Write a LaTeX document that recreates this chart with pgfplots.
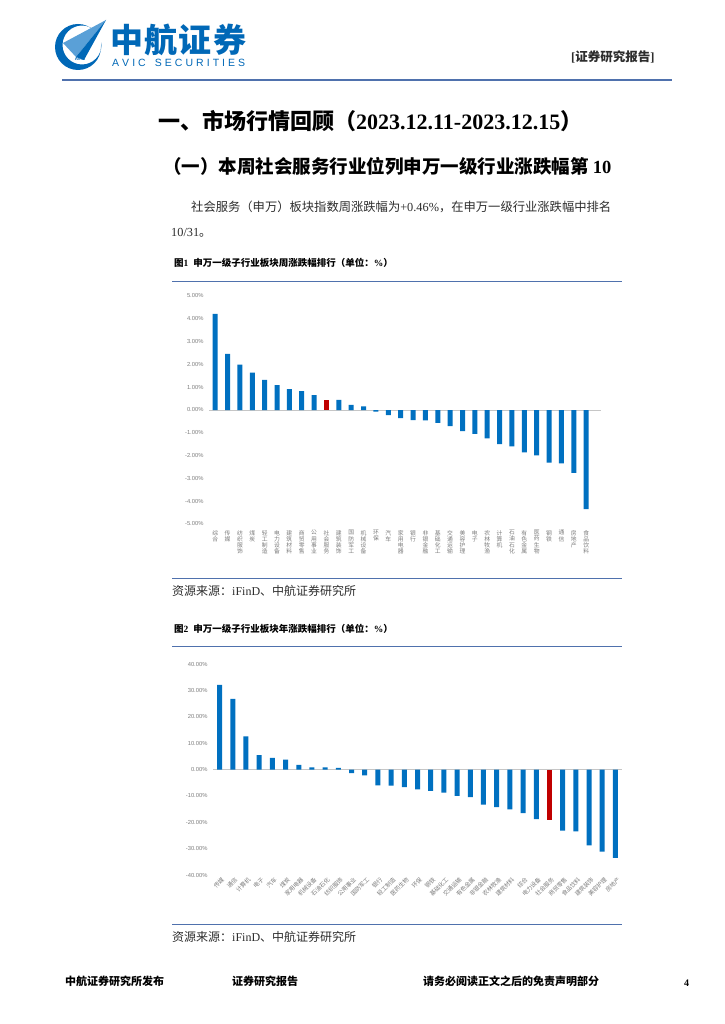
\documentclass[border=0pt]{standalone}
\usepackage{pgfplots}
\pgfplotsset{compat=1.18}
\usepackage{pgfplotstable}
\usepackage{fontspec}
\setmainfont{Noto Sans CJK SC}
\newfontfamily\lserif{Liberation Serif}
\newfontfamily\lsans{Liberation Sans}

\definecolor{avic}{RGB}{0,104,183}
\definecolor{avicl}{RGB}{90,160,215}
\definecolor{barblue}{RGB}{0,112,192}
\definecolor{barred}{RGB}{192,0,0}
\definecolor{rulecol}{RGB}{79,113,173}
\definecolor{tickgray}{RGB}{125,125,125}
\definecolor{bodytext}{RGB}{45,45,45}

% weekly change, % (index 9 = social services, drawn red)
\pgfplotstableread{
idx val
0 4.22
1 2.46
2 1.99
3 1.64
4 1.32
5 1.09
6 0.92
7 0.83
8 0.65
10 0.44
11 0.23
12 0.16
13 -0.07
14 -0.23
15 -0.36
16 -0.44
17 -0.45
18 -0.57
19 -0.71
20 -0.93
21 -1.05
22 -1.24
23 -1.50
24 -1.60
25 -1.86
26 -1.99
27 -2.31
28 -2.34
29 -2.76
30 -4.35
}\weekblue

% year-to-date change, % (index 25 = social services, drawn red)
\pgfplotstableread{
idx val
0 32.1
1 26.8
2 12.6
3 5.5
4 4.4
5 3.7
6 1.8
7 0.8
8 0.8
9 0.6
10 -1.4
11 -2.2
12 -6.0
13 -6.1
14 -6.7
15 -7.5
16 -8.1
17 -8.8
18 -10.0
19 -10.5
20 -13.3
21 -14.3
22 -15.1
23 -16.5
24 -18.8
26 -23.2
27 -23.5
28 -28.8
29 -31.1
30 -33.5
}\yearblue

\pgfplotsset{
  pagebars/.style={
    scale only axis, ybar, bar width=5pt, bar shift=0pt, clip=false,
    axis line style={draw=none}, tick style={draw=none}, major tick length=0pt,
    xtick={0,...,30},
    y tick label style={font=\lsans\fontsize{5.8}{6}\selectfont, text=tickgray, xshift=-2pt},
    extra y ticks={0}, extra y tick labels={},
    extra y tick style={grid=major, major grid style={draw=gray!45, line width=0.8pt}},
  }
}

\begin{document}
\begin{tikzpicture}
\begin{scope}[x=1pt,y=-1pt]
\fill[white] (0,0) rectangle (724,1024);

% header
\node[anchor=west, font=\fontsize{33}{35}\selectfont\bfseries, text=avic, inner sep=0pt] at (110,40)
  {\makebox[136pt][s]{中\hfill 航\hfill 证\hfill 券}};
\node[anchor=west, font=\lsans\fontsize{10.5}{11}\selectfont, text=avic, inner sep=0pt] at (112,63)
  {\makebox[133pt][s]{A\hfill V\hfill I\hfill C\hfill\hfill\hfill S\hfill E\hfill C\hfill U\hfill R\hfill I\hfill T\hfill I\hfill E\hfill S}};
\node[anchor=west, font=\fontsize{12.5}{13}\selectfont\bfseries, text=bodytext, inner sep=0pt] at (571,57)
  {{\lserif[}证券研究报告{\lserif]}};
\draw[rulecol, line width=1.3pt] (62,80) -- (672,80);

% headings and text
\node[anchor=west, font=\fontsize{22}{24}\selectfont\bfseries, inner sep=0pt] at (158,121)
  {一、市场行情回顾（{\lserif\bfseries 2023.12.11-2023.12.15}）};
\node[anchor=west, font=\fontsize{18.5}{20}\selectfont\bfseries, inner sep=0pt] at (163,166)
  {（一）本周社会服务行业位列申万一级行业涨跌幅第 {\lserif\bfseries 10}};
\node[anchor=west, font=\fontsize{12.3}{13}\selectfont, text=bodytext, inner sep=0pt] at (191,207)
  {社会服务（申万）板块指数周涨跌幅为{\lserif +0.46\%}，在申万一级行业涨跌幅中排名};
\node[anchor=west, font=\fontsize{12.3}{13}\selectfont, text=bodytext, inner sep=0pt] at (171,233)
  {{\lserif 10/31}。};

\node[anchor=west, font=\fontsize{9.5}{10}\selectfont\bfseries, inner sep=0pt] at (174,263)
  {图{\lserif\bfseries 1}\hspace{5pt}申万一级子行业板块周涨跌幅排行（单位：{\lserif\bfseries\%}）};
\draw[rulecol, line width=0.9pt] (172,281) -- (622,281);
\draw[rulecol, line width=0.9pt] (172,578) -- (622,578);
\node[anchor=west, font=\fontsize{12}{13}\selectfont, text=bodytext, inner sep=0pt] at (172,591)
  {资源来源：{\lserif iFinD}、中航证券研究所};

\node[anchor=west, font=\fontsize{9.5}{10}\selectfont\bfseries, inner sep=0pt] at (174,629)
  {图{\lserif\bfseries 2}\hspace{5pt}申万一级子行业板块年涨跌幅排行（单位：{\lserif\bfseries\%}）};
\draw[rulecol, line width=0.9pt] (172,646) -- (622,646);
\draw[rulecol, line width=0.9pt] (172,924) -- (622,924);
\node[anchor=west, font=\fontsize{12}{13}\selectfont, text=bodytext, inner sep=0pt] at (172,937)
  {资源来源：{\lserif iFinD}、中航证券研究所};

% footer
\node[anchor=west, font=\fontsize{11}{12}\selectfont\bfseries, inner sep=0pt] at (65,981) {中航证券研究所发布};
\node[anchor=west, font=\fontsize{11}{12}\selectfont\bfseries, inner sep=0pt] at (232,981) {证券研究报告};
\node[anchor=west, font=\fontsize{11}{12}\selectfont\bfseries, inner sep=0pt] at (423,981) {请务必阅读正文之后的免责声明部分};
\node[anchor=west, font=\lserif\fontsize{10}{11}\selectfont\bfseries, inner sep=0pt] at (684,983) {4};
\end{scope}

% logo
\begin{scope}[shift={(78pt,-47pt)}, x=1pt, y=1pt]
\fill[avic, even odd rule] (0,0) circle (23) (4,2) circle (19.5);
\fill[white] (8,8) -- (30,30) -- (22,-2) -- cycle;
\fill[avicl] (-15,4) -- (28,27) -- (-2,-10) -- cycle;
\fill[avic] (-2,-10) -- (28,27) -- (6,-13) -- cycle;
\node[font=\lsans\bfseries\fontsize{4.5}{5}\selectfont, text=avic, inner sep=0pt] at (2,-12) {AVIC};
\end{scope}

% chart 1: weekly
\begin{axis}[pagebars, at={(209pt,-296pt)}, anchor=north west, width=392pt, height=228pt,
  xmin=-0.5, xmax=31.2, ymin=-5, ymax=5, ytick={-5,...,5},
  yticklabels={-5.00\%,-4.00\%,-3.00\%,-2.00\%,-1.00\%,0.00\%,1.00\%,2.00\%,3.00\%,4.00\%,5.00\%},
  x tick label style={font=\fontsize{5.8}{6.2}\selectfont, text=tickgray, align=center, anchor=north, inner sep=0pt, yshift=-6pt},
  xticklabels={{综\\合},{传\\媒},{纺\\织\\服\\饰},{煤\\炭},{轻\\工\\制\\造},{电\\力\\设\\备},{建\\筑\\材\\料},{商\\贸\\零\\售},{公\\用\\事\\业},{社\\会\\服\\务},{建\\筑\\装\\饰},{国\\防\\军\\工},{机\\械\\设\\备},{环\\保},{汽\\车},{家\\用\\电\\器},{银\\行},{非\\银\\金\\融},{基\\础\\化\\工},{交\\通\\运\\输},{美\\容\\护\\理},{电\\子},{农\\林\\牧\\渔},{计\\算\\机},{石\\油\\石\\化},{有\\色\\金\\属},{医\\药\\生\\物},{钢\\铁},{通\\信},{房\\地\\产},{食\\品\\饮\\料}}]
\addplot[fill=barblue, draw=none] table[x=idx, y=val] {\weekblue};
\addplot[fill=barred, draw=none] coordinates {(9,0.46)};
\end{axis}

% chart 2: year to date
\begin{axis}[pagebars, at={(213pt,-664pt)}, anchor=north west, width=409pt, height=211pt,
  xmin=-0.5, xmax=30.5, ymin=-40, ymax=40, ytick={-40,-30,...,40},
  yticklabels={-40.00\%,-30.00\%,-20.00\%,-10.00\%,0.00\%,10.00\%,20.00\%,30.00\%,40.00\%},
  x tick label style={font=\fontsize{5.8}{6.2}\selectfont, text=tickgray, rotate=45, anchor=east, inner sep=0pt, yshift=-5pt},
  xticklabels={传媒,通信,计算机,电子,汽车,煤炭,家用电器,机械设备,石油石化,纺织服饰,公用事业,国防军工,银行,轻工制造,医药生物,环保,钢铁,基础化工,交通运输,有色金属,非银金融,农林牧渔,建筑材料,综合,电力设备,社会服务,商贸零售,食品饮料,建筑装饰,美容护理,房地产}]
\addplot[fill=barblue, draw=none] table[x=idx, y=val] {\yearblue};
\addplot[fill=barred, draw=none] coordinates {(25,-19.3)};
\end{axis}
\end{tikzpicture}
\end{document}
